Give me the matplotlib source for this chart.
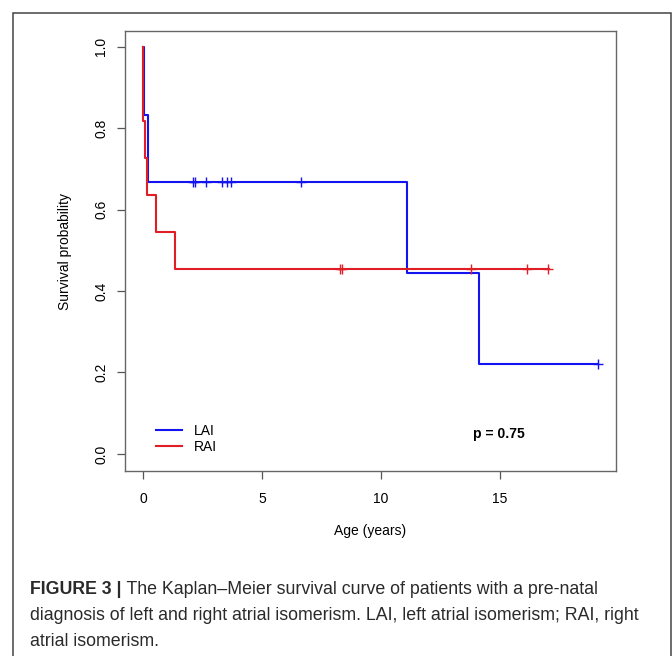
import numpy as np
import matplotlib
matplotlib.use("Agg")
import matplotlib.pyplot as plt
from matplotlib.patches import Rectangle

# ---- data ----
groups = ["LAI", "RAI"]
lai_times = [0.0, 0.05, 0.20, 11.09, 14.13, 19.13]
lai_surv = [1.0, 0.833, 0.667, 0.444, 0.222, 0.222]
lai_censor = [2.09, 2.20, 2.65, 3.33, 3.52, 3.69, 6.63, 19.13]

rai_times = [0.0, 0.01, 0.08, 0.15, 0.55, 1.36, 17.05]
rai_surv = [1.0, 0.818, 0.727, 0.636, 0.545, 0.455, 0.455]
rai_censor = [8.28, 8.35, 13.77, 16.13, 17.03]

x_ticks = [0, 5, 10, 15]
y_ticks = [0.0, 0.2, 0.4, 0.6, 0.8, 1.0]
p_text = "p = 0.75"
caption_bold = "FIGURE 3 |"
caption_lines = [
    " The Kaplan\u2013Meier survival curve of patients with a pre-natal",
    "diagnosis of left and right atrial isomerism. LAI, left atrial isomerism; RAI, right",
    "atrial isomerism.",
]

colors = {"LAI": "#1414F0", "RAI": "#E01E26"}

plt.rcParams["font.family"] = ["Liberation Sans", "DejaVu Sans"]

fig = plt.figure(figsize=(6.72, 6.56), dpi=100)
ax = fig.add_axes([125 / 672, 1 - 471 / 656, (616 - 125) / 672, (471 - 31) / 656])


def surv_at(times, surv, t):
    idx = np.searchsorted(np.asarray(times), np.asarray(t), side="right") - 1
    return np.asarray(surv)[idx]


for name, times, surv, cens in [
    ("LAI", lai_times, lai_surv, lai_censor),
    ("RAI", rai_times, rai_surv, rai_censor),
]:
    ax.step(times, surv, where="post", color=colors[name], lw=1.5, label=name)
    ax.plot(cens, surv_at(times, surv, cens), ls="none", marker="+",
            ms=7.5, mew=1.0, color=colors[name])

ax.set_xlim(-0.756, 19.87)
ax.set_ylim(-0.042, 1.039)
ax.set_xticks(x_ticks)
ax.set_yticks(y_ticks)
ax.set_yticklabels([f"{v:.1f}" for v in y_ticks], rotation=90, va="center")
ax.tick_params(axis="both", length=6, width=0.9, color="#555555",
               labelsize=10, labelcolor="black")
ax.tick_params(axis="x", pad=9)
ax.tick_params(axis="y", pad=6)
for sp in ax.spines.values():
    sp.set_color("#666666")
    sp.set_linewidth(1.0)

ax.set_xlabel("Age (years)", fontsize=10)
ax.set_ylabel("Survival probability", fontsize=10)
ax.xaxis.set_label_coords(0.5, -0.121)
ax.yaxis.set_label_coords(-0.108, 0.5)

leg = ax.legend(loc="center left", bbox_to_anchor=(0.063, 0.0727),
                frameon=False, fontsize=10, handlelength=1.87,
                handletextpad=0.86, borderpad=0, borderaxespad=0,
                labelspacing=0.15)

ax.text(14.96, 0.049, p_text, fontsize=10, fontweight="bold",
        ha="center", va="center")

# outer frame
fig.patches.append(Rectangle((13 / 672, -0.02), (671 - 13) / 672, 0.02 + 1 - 13 / 656,
                             transform=fig.transFigure, fill=False,
                             ec="#444444", lw=1.1, clip_on=False))

# caption
cap_font = ["Liberation Sans", "DejaVu Sans"]
cap_color = "#2a2a2a"
cap_size = 12.8
y0 = 1 - 594 / 656
dy = 26 / 656
tb = fig.text(30 / 672, y0, caption_bold, fontsize=cap_size, fontweight="bold",
              family=cap_font, color=cap_color, va="baseline")
fig.canvas.draw()
bb = tb.get_window_extent()
fig.text(bb.x1 / fig.bbox.width, y0, caption_lines[0], fontsize=cap_size,
         family=cap_font, color=cap_color, va="baseline")
for i, line in enumerate(caption_lines[1:], start=1):
    fig.text(30 / 672, y0 - i * dy, line, fontsize=cap_size, family=cap_font,
             color=cap_color, va="baseline")

fig.savefig("out.png", dpi=100)
